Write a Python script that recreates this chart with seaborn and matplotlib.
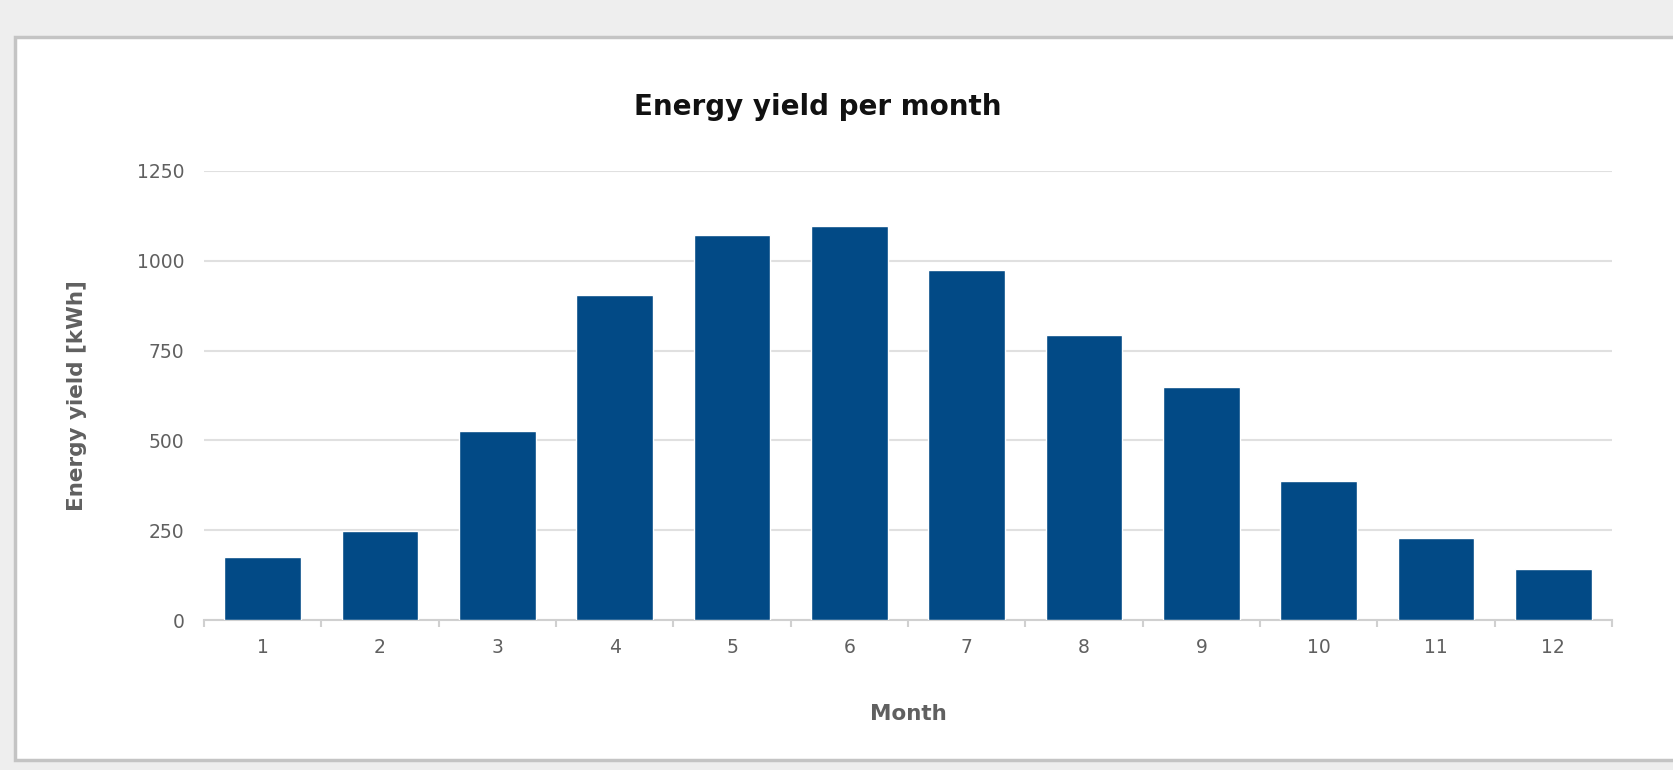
import pandas as pd
import matplotlib.pyplot as plt
import seaborn as sns
from matplotlib.patches import Rectangle

# values
months = [str(m) for m in range(1, 13)]
energy_kwh = [175, 247, 527, 905, 1073, 1097, 974, 793, 648, 388, 228, 143]
y_ticks = [0, 250, 500, 750, 1000, 1250]

bar_color = '#024a86'
grid_color = '#e0e0e0'
text_grey = '#606060'

if __name__ == "__main__":
    df = pd.DataFrame({'Month': months, 'Energy': energy_kwh})

    sns.set_style('white')
    plt.rcParams['font.family'] = ['DejaVu Sans']

    fig = plt.figure(figsize=(16.73, 7.7), dpi=100, facecolor='#eeeeee')
    # white panel with a thin grey frame, like the screenshot
    fig.patches.append(Rectangle((15 / 1673, 10 / 770), 1.0, 723 / 770, transform=fig.transFigure,
                                 facecolor='white', edgecolor='#c4c4c4', linewidth=2.5, zorder=-5))

    ax = fig.add_axes([204 / 1673, 150 / 770, 1408 / 1673, 449 / 770])
    ax.set_facecolor('none')
    sns.barplot(data=df, x='Month', y='Energy', ax=ax, color=bar_color, saturation=1, width=0.655, zorder=3)

    ax.set_ylim(0, 1250)
    ax.set_yticks(y_ticks)
    ax.set_yticklabels([str(t) for t in y_ticks])
    ax.grid(axis='y', color=grid_color, linewidth=1.5, zorder=0)
    for side in ['top', 'right', 'left']:
        ax.spines[side].set_visible(False)
    ax.spines['bottom'].set_color('#d0d0d0')
    ax.spines['bottom'].set_linewidth(1.5)

    # tick marks sit between categories on the x axis
    ax.set_xticks(range(len(months)))
    ax.set_xticks([i + 0.5 for i in range(-1, len(months))], minor=True)
    ax.tick_params(axis='x', which='major', length=0, pad=13, labelsize=13.5, labelcolor=text_grey)
    ax.tick_params(axis='x', which='minor', length=5, color='#d0d0d0', width=1.5, bottom=True)
    ax.tick_params(axis='y', length=0, pad=14, labelsize=13.5, labelcolor=text_grey)
    ax.set_xlim(-0.5, len(months) - 0.5)

    ax.set_xlabel('Month', fontsize=15.5, fontweight='bold', color=text_grey)
    ax.set_ylabel('Energy yield [kWh]', fontsize=15.5, fontweight='bold', color=text_grey)
    ax.xaxis.set_label_coords(0.5, -0.188)
    ax.yaxis.set_label_coords(-0.083, 0.5)

    fig.text(818 / 1673, 1 - 107 / 770, 'Energy yield per month', ha='center', va='center',
             fontsize=20, fontweight='bold', color='#111111')

    plt.savefig('out.png', dpi=100, facecolor=fig.get_facecolor())
    plt.close(fig)
